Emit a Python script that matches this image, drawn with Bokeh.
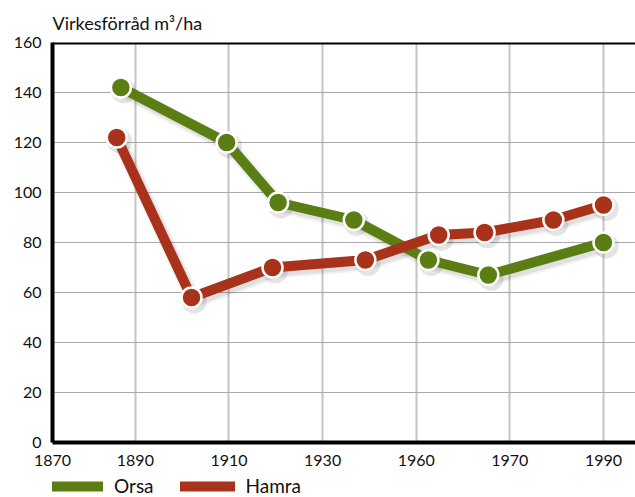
from bokeh.plotting import figure
from bokeh.models import FixedTicker, Span, Legend, LegendItem, ColumnDataSource
from bokeh.layouts import column
from bokeh.transform import dodge
from bokeh.embed import file_html
from bokeh.resources import INLINE
import numpy as np

# ---- data ----
TICK_YEARS = [1870, 1890, 1910, 1930, 1960, 1970, 1990]
TICK_LABELS = ["1870", "1890", "1910", "1930", "1960", "1970", "1990"]
Y_TICKS = [0, 20, 40, 60, 80, 100, 120, 140, 160]

orsa_years = [1886.5, 1909.5, 1920.5, 1940, 1961.3, 1967.7, 1990]
orsa_vals = [142, 120, 96, 89, 73, 67, 80]
hamra_years = [1885.5, 1902, 1919.3, 1943.7, 1962.4, 1967.3, 1979.3, 1990]
hamra_vals = [122, 58, 70, 73, 83, 84, 89, 95]

# non-linear axis: tick labels are equally spaced
TICK_SLOTS = [0.115, 1, 2, 3, 4, 5, 6]
def to_slot(years):
    return list(np.interp(years, TICK_YEARS, TICK_SLOTS))

GREEN = "#5b7e14"
RED = "#a9321a"
FONT = "Lato"

p = figure(width=635, height=470, x_range=(0.115, 6.342), y_range=(0, 160),
           output_backend="svg", toolbar_location=None,
           min_border_left=52, min_border_right=0, min_border_top=42, min_border_bottom=28)

p.title.text = "Virkesförråd m³/ha"
p.title.text_font = FONT
p.title.text_font_size = "18px"
p.title.text_font_style = "normal"
p.title.text_color = "#111111"
p.title.align = "left"
p.title.standoff = 17
p.title.offset = 0

p.outline_line_color = None
p.background_fill_color = "white"

# axes
for ax in (p.xaxis[0], p.yaxis[0]):
    ax.axis_line_width = 4
    ax.axis_line_color = "black"
    ax.major_tick_line_color = None
    ax.minor_tick_line_color = None
    ax.major_label_text_font = FONT
    ax.major_label_text_font_size = "16px"
    ax.major_label_text_color = "#111111"

p.xaxis.ticker = FixedTicker(ticks=TICK_SLOTS)
p.xaxis.major_label_overrides = {s: l for s, l in zip(TICK_SLOTS, TICK_LABELS)}
p.xaxis.major_label_standoff = 6
p.yaxis.ticker = FixedTicker(ticks=Y_TICKS)
p.yaxis.major_label_standoff = 5

p.xgrid.ticker = FixedTicker(ticks=TICK_SLOTS[1:])
p.xgrid.grid_line_color = "#c4c4c4"
p.xgrid.grid_line_width = 2
p.ygrid.ticker = FixedTicker(ticks=Y_TICKS[1:-1])
p.ygrid.grid_line_color = "#aaaaaa"
p.ygrid.grid_line_width = 1.2

top = Span(location=160, dimension="width", line_color="black", line_width=4)
p.add_layout(top)

src_o = ColumnDataSource(dict(x=to_slot(orsa_years), y=orsa_vals))
src_h = ColumnDataSource(dict(x=to_slot(hamra_years), y=hamra_vals))

# soft shadows
for src in (src_o, src_h):
    for w, a in ((15, 0.05), (11, 0.07)):
        p.line(dodge("x", 0.03), dodge("y", -1.4), source=src, line_color="black",
               line_alpha=a, line_width=w, line_join="round", line_cap="round")
    p.scatter(dodge("x", 0.03), dodge("y", -1.4), source=src, size=25,
              fill_color="black", fill_alpha=0.1, line_color=None)

p.line("x", "y", source=src_o, line_color=GREEN, line_width=10, line_join="round", line_cap="round")
p.line("x", "y", source=src_h, line_color=RED, line_width=10, line_join="round", line_cap="round")
p.scatter("x", "y", source=src_o, size=20, fill_color=GREEN, line_color="white", line_width=2.5)
p.scatter("x", "y", source=src_h, size=20, fill_color=RED, line_color="white", line_width=2.5)

# legend strip
q = figure(width=635, height=27, output_backend="svg", toolbar_location=None,
           min_border_left=0, min_border_right=0, min_border_top=0, min_border_bottom=0,
           x_range=(0, 1), y_range=(0, 1))
q.axis.visible = False
q.grid.visible = False
q.outline_line_color = None
lo = q.line([-2, -1], [-2, -2], line_color=GREEN, line_width=10, line_cap="round")
lh = q.line([-2, -1], [-2, -2], line_color=RED, line_width=10, line_cap="round")
legend = Legend(items=[LegendItem(label="Orsa", renderers=[lo]),
                       LegendItem(label="Hamra", renderers=[lh])],
                orientation="horizontal", location=(-4, 0),
                border_line_color=None, background_fill_alpha=0,
                label_text_font=FONT, label_text_font_size="19px",
                label_text_color="#111111",
                glyph_width=55, glyph_height=20, label_standoff=11,
                spacing=26, padding=0, margin=0)
q.add_layout(legend)

open("out.html", "w").write(file_html(column(p, q, spacing=0), INLINE))
